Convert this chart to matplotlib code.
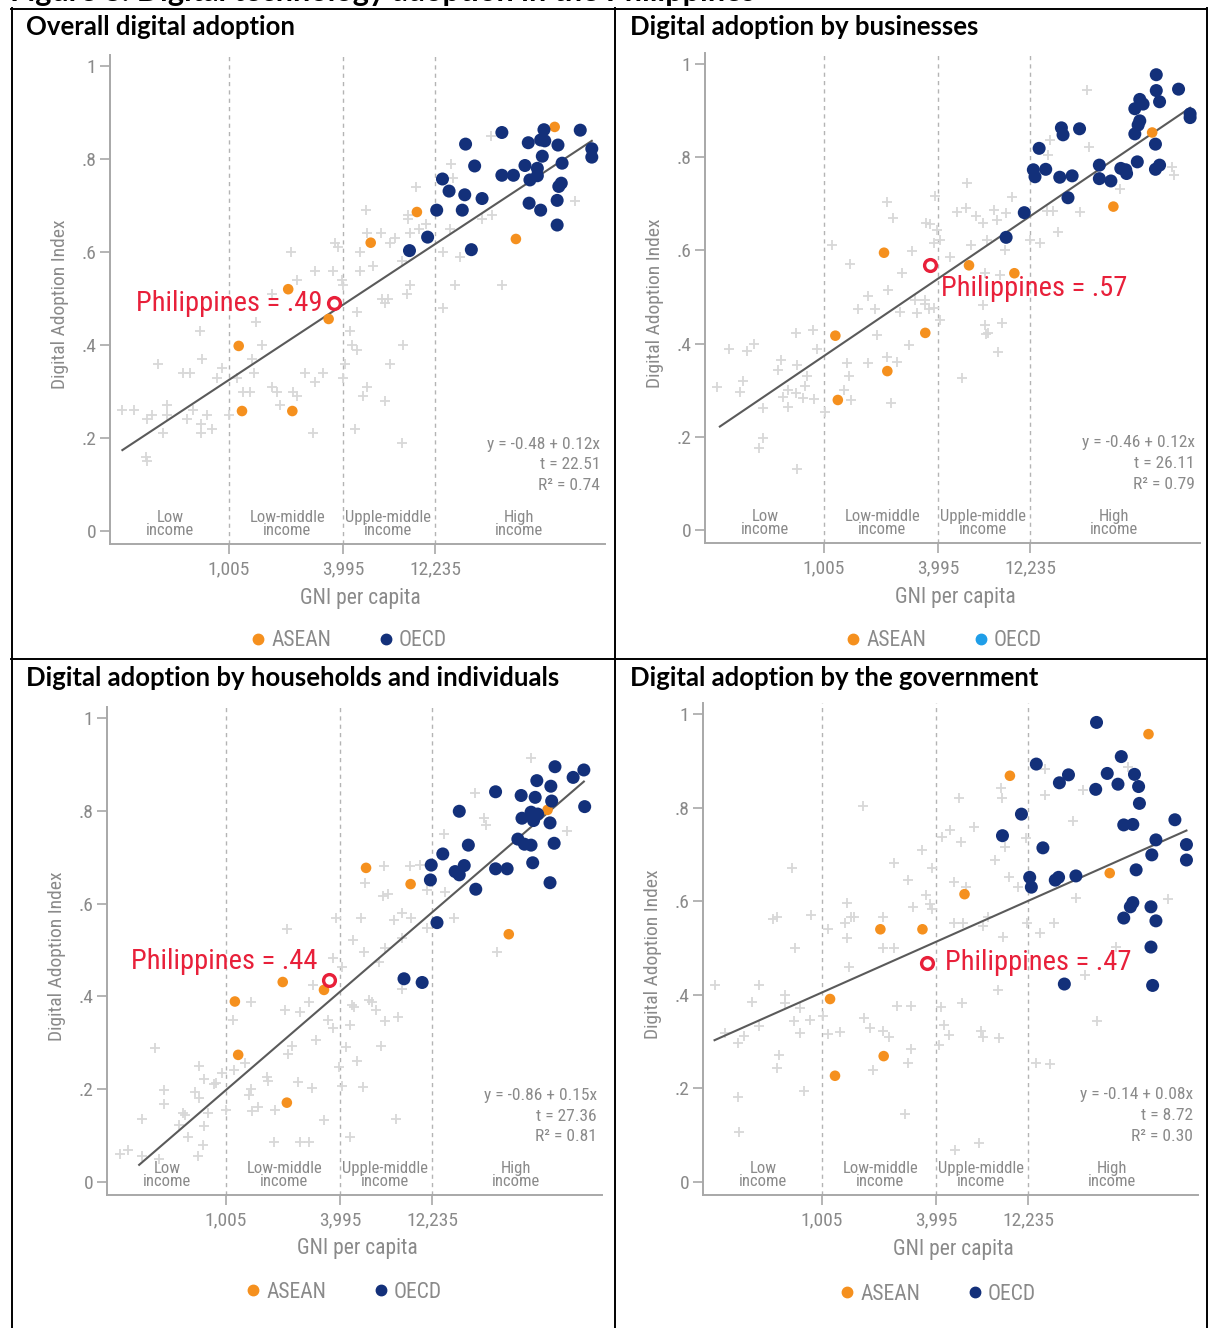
import numpy as np
import matplotlib
matplotlib.use("Agg")
import matplotlib.pyplot as plt
from matplotlib import font_manager
from matplotlib.lines import Line2D

W, H = 1208, 1328

# x = ln(GNI per capita), y = Digital Adoption Index
income_cuts = [1005, 3995, 12235]
income_cut_labels = ['1,005', '3,995', '12,235']
income_groups = ['Low\nincome', 'Low-middle\nincome', 'Upple-middle\nincome', 'High\nincome']
income_group_x = [6.20, 7.62, 8.84, 10.43]

titles = ['Overall digital adoption', 'Digital adoption by businesses',
          'Digital adoption by households and individuals', 'Digital adoption by the government']

# --- overall ---
p1_other = [(7.66, .60), (7.74, .54), (7.95, .56), (7.43, .51), (7.24, .45), (6.56, .43),
            (5.62, .26), (5.76, .26), (5.92, .24), (5.98, .25), (5.91, .16), (5.92, .15), (6.05, .36),
            (6.11, .21), (6.16, .27), (6.16, .25), (6.35, .34), (6.44, .34), (6.40, .24), (6.48, .26),
            (6.58, .37), (6.57, .23), (6.57, .21), (6.71, .22), (6.65, .25), (6.77, .33), (6.83, .35),
            (6.91, .25), (7.01, .33), (7.08, .30), (7.17, .30), (7.19, .37), (7.21, .34), (7.31, .40),
            (7.43, .31), (7.50, .30), (7.53, .27), (7.69, .30), (7.74, .29), (7.83, .34), (7.95, .32),
            (7.93, .21), (8.05, .34),
            (10.09, .85), (9.63, .76), (9.60, .79), (9.18, .74), (8.57, .69), (9.08, .68), (9.08, .67),
            (9.30, .66), (8.76, .64), (8.59, .64), (8.20, .62), (8.23, .61), (8.50, .60), (8.86, .62),
            (8.92, .63), (9.11, .64), (9.22, .65), (9.51, .60), (9.71, .59), (9.98, .67), (10.10, .68),
            (11.11, .71), (9.59, .65), (8.66, .57), (8.50, .56), (8.28, .54), (8.29, .53), (8.17, .56),
            (9.11, .53), (9.01, .58), (8.77, .50), (8.84, .50), (8.80, .49), (9.07, .51), (8.46, .47),
            (8.38, .43), (9.65, .53), (10.22, .53), (9.51, .48),
            (8.40, .40), (8.46, .39), (8.32, .36), (8.29, .33), (9.02, .40), (8.86, .36), (8.59, .31),
            (8.54, .29), (8.80, .28), (8.44, .22), (9.01, .19)]
p1_asean = [(7.63, .52), (8.12, .456), (7.03, .398), (7.07, .258), (7.68, .258), (8.63, .62),
            (9.19, .686), (10.39, .628), (10.86, .869)]
p1_oecd = [(10.22, .857), (9.78, .832), (10.54, .835), (10.73, .863), (10.69, .841), (10.74, .839),
           (10.90, .830), (11.17, .862), (11.31, .822), (11.31, .804), (10.71, .806), (9.89, .785),
           (10.50, .786), (10.65, .780), (10.95, .791), (10.22, .765), (10.36, .765), (10.56, .755),
           (10.65, .764), (9.50, .757), (9.58, .731), (9.77, .723), (9.98, .715), (10.91, .741),
           (10.94, .748), (10.55, .705), (10.69, .690), (10.89, .711), (9.43, .690), (9.74, .690),
           (10.89, .658), (9.32, .632), (9.10, .603), (9.85, .605)]
p1_phil = (8.18, 0.49)
p1_fit = [(5.62, 0.174), (11.31, 0.839)]
p1_stats = ['y = -0.48 + 0.12x', 't = 22.51', 'R² = 0.74']

# --- businesses ---
p2_other = [(7.67, .703), (7.75, .669), (7.01, .612), (7.23, .570), (7.98, .599), (7.86, .551),
            (7.69, .515), (7.44, .502), (7.33, .474), (7.53, .474), (7.83, .468), (8.02, .494),
            (8.04, .465), (8.14, .494), (8.18, .474), (8.15, .659), (6.57, .422), (6.78, .429),
            (7.55, .418), (10.10, .944), (10.12, .821), (9.65, .837), (9.63, .805), (8.64, .744),
            (8.26, .717), (8.52, .683), (8.63, .692), (8.76, .674), (8.84, .659), (8.97, .687),
            (9.01, .665), (9.12, .680), (9.19, .715), (8.20, .657), (8.28, .644), (8.32, .622),
            (8.24, .615), (8.70, .612), (8.89, .622), (9.11, .601), (9.41, .622), (9.53, .615),
            (9.61, .685), (9.69, .685), (9.75, .640), (10.02, .683), (10.50, .731), (11.13, .780),
            (11.15, .762), (8.44, .586), (8.86, .551), (9.05, .547), (8.14, .486), (8.24, .476),
            (8.84, .483), (9.07, .444), (8.86, .440), (8.90, .422), (8.32, .451),
            (5.62, .307), (5.76, .388), (5.98, .385), (6.06, .399), (5.90, .297), (5.93, .320),
            (6.17, .261), (6.12, .175), (6.17, .197), (6.39, .365), (6.35, .343), (6.41, .286),
            (6.48, .265), (6.48, .300), (6.59, .354), (6.57, .293), (6.66, .283), (6.68, .308),
            (6.71, .331), (6.79, .281), (6.83, .388), (6.58, .131), (6.92, .254), (7.15, .300),
            (7.19, .358), (7.22, .331), (7.24, .280), (7.44, .359), (7.67, .371), (7.73, .272),
            (7.80, .361), (7.94, .397), (8.59, .326), (8.88, .421), (9.02, .383)]
p2_asean = [(7.64, .595), (7.05, .417), (8.14, .423), (8.67, .568), (9.22, .551), (10.42, .694),
            (10.89, .853), (7.68, .341), (7.08, .279)]
p2_oecd = [(10.94, .977), (10.94, .943), (11.21, .946), (10.98, .919), (10.74, .924), (10.78, .914),
           (10.68, .904), (10.74, .878), (10.72, .869), (10.68, .850), (11.35, .893), (11.35, .885),
           (10.93, .828), (9.79, .863), (9.81, .848), (10.01, .861), (9.52, .819), (9.45, .773),
           (9.47, .758), (9.60, .774), (9.77, .757), (9.92, .760), (10.25, .783), (10.25, .754),
           (10.39, .749), (10.51, .776), (10.57, .773), (10.58, .765), (10.71, .790), (10.93, .774),
           (10.98, .783), (9.87, .713), (9.34, .681), (9.12, .628)]
p2_phil = (8.20, 0.569)
p2_fit = [(5.65, 0.222), (11.35, 0.906)]
p2_stats = ['y = -0.46 + 0.12x', 't = 26.11', 'R² = 0.79']

# --- households and individuals ---
p3_other = [(10.61, .913), (9.93, .839), (10.04, .784), (10.06, .769), (9.56, .751), (11.05, .757),
            (8.83, .682), (8.60, .645), (9.14, .680), (9.26, .683), (8.82, .617), (8.88, .621),
            (9.35, .629), (9.57, .626), (9.68, .568), (9.35, .547), (9.15, .570), (9.04, .579),
            (8.95, .565), (8.55, .568), (8.24, .568), (7.65, .545), (8.45, .522), (8.58, .496),
            (9.04, .525), (8.84, .504), (10.20, .496), (8.77, .475), (8.32, .464), (8.21, .482),
            (8.68, .389), (8.44, .381), (7.21, .389), (7.97, .425), (7.92, .389), (9.04, .417),
            (7.63, .371), (7.81, .366), (8.15, .349), (8.21, .331), (8.46, .378), (8.64, .392),
            (8.73, .371), (8.84, .348), (9.00, .355), (8.41, .338), (7.00, .349), (8.00, .305),
            (7.71, .293), (7.66, .276), (8.37, .290), (8.79, .294), (8.50, .261), (8.28, .248),
            (8.32, .207), (8.57, .204), (7.78, .216), (7.95, .202), (7.41, .227), (7.42, .218),
            (7.21, .200), (7.19, .188), (7.14, .256), (7.01, .241), (6.86, .234), (6.79, .213),
            (6.91, .155), (7.23, .152), (7.30, .162), (7.51, .155), (8.10, .134), (8.41, .098),
            (8.97, .136), (7.50, .087), (7.81, .087), (7.92, .087), (6.63, .080), (6.57, .056),
            (6.45, .098), (6.65, .121), (6.70, .148), (6.59, .180), (6.54, .195), (6.58, .250),
            (6.64, .223), (6.77, .211), (6.39, .148), (6.41, .144), (6.34, .123), (6.16, .198),
            (6.16, .168), (6.05, .288), (5.90, .136), (5.72, .070), (5.63, .060), (5.90, .055),
            (6.10, .049)]
p3_asean = [(8.61, .677), (9.15, .642), (10.34, .534), (10.81, .802), (7.60, .431), (8.10, .414),
            (7.02, .389), (7.06, .274), (7.65, .171)]
p3_oecd = [(10.90, .895), (11.25, .888), (11.12, .872), (10.68, .865), (10.85, .853), (10.18, .841),
           (10.49, .833), (10.66, .829), (10.86, .821), (11.26, .809), (9.74, .799), (10.61, .797),
           (10.69, .793), (10.50, .784), (10.64, .779), (10.84, .774), (10.45, .739), (10.53, .728),
           (10.61, .726), (10.89, .730), (9.85, .726), (9.54, .707), (9.40, .683), (9.80, .682),
           (9.69, .669), (9.74, .662), (10.18, .675), (10.32, .675), (10.63, .688), (9.39, .651),
           (9.94, .631), (10.84, .645), (9.47, .559), (9.07, .438), (9.29, .430)]
p3_phil = (8.16, 0.435)
p3_fit = [(5.86, 0.037), (11.25, 0.863)]
p3_stats = ['y = -0.86 + 0.15x', 't = 27.36', 'R² = 0.81']

# --- government ---
p4_other = [(7.41, .804), (6.55, .672), (5.61, .420), (6.15, .420), (6.06, .385), (6.46, .400),
            (6.37, .567), (6.32, .563), (6.58, .501), (6.78, .571), (6.99, .540), (7.21, .596),
            (7.26, .567), (7.19, .553), (7.30, .566), (7.21, .521), (7.24, .459), (7.65, .567),
            (7.65, .499), (7.79, .499), (7.79, .681), (7.95, .645), (8.02, .588), (8.13, .709),
            (8.17, .613), (8.22, .595), (8.24, .672), (8.25, .583), (8.37, .738), (8.46, .752),
            (8.57, .820), (8.51, .642), (8.51, .553), (8.62, .553), (8.60, .727), (8.66, .631),
            (8.75, .759), (8.86, .546), (8.93, .567), (9.01, .687), (9.08, .841), (9.10, .820),
            (9.13, .716), (9.18, .652), (9.04, .410), (9.11, .524), (9.29, .631), (9.38, .734),
            (9.40, .553), (9.55, .531), (9.61, .827), (9.62, .882), (9.73, .553), (9.96, .771),
            (9.99, .606), (10.07, .838), (10.10, .442), (10.47, .503), (11.11, .605), (10.62, .887),
            (5.74, .318), (5.89, .296), (5.97, .312), (6.15, .333), (6.39, .271), (6.37, .243),
            (6.46, .382), (6.57, .343), (6.64, .318), (6.65, .371), (6.77, .346), (6.92, .355),
            (6.99, .316), (7.13, .321), (6.69, .195), (5.89, .182), (5.91, .107), (7.42, .350),
            (7.50, .328), (7.65, .323), (7.73, .309), (7.53, .239), (7.82, .376), (7.99, .376),
            (7.99, .284), (7.95, .255), (7.92, .145), (8.36, .373), (8.39, .335), (8.45, .314),
            (8.33, .293), (8.61, .383), (8.84, .323), (8.86, .309), (9.06, .307), (8.53, .068),
            (8.82, .084), (9.51, .255), (9.67, .252), (10.24, .345)]
p4_asean = [(9.19, .868), (10.87, .957), (10.40, .660), (8.64, .615), (7.62, .540), (8.13, .540),
            (7.01, .391), (7.07, .227), (7.66, .269)]
p4_oecd = [(10.24, .982), (9.51, .893), (10.54, .909), (9.90, .870), (9.79, .853), (10.37, .873),
           (10.23, .839), (10.50, .850), (10.70, .871), (10.75, .845), (10.76, .809), (9.33, .786),
           (10.57, .763), (10.68, .764), (11.19, .774), (9.10, .740), (9.59, .714), (10.96, .731),
           (10.91, .699), (11.33, .721), (11.33, .688), (10.72, .667), (9.43, .651), (9.45, .630),
           (9.74, .645), (9.78, .651), (9.99, .654), (10.68, .597), (10.65, .588), (10.90, .588),
           (10.57, .564), (10.96, .558), (10.90, .502), (9.85, .423), (10.92, .420)]
p4_phil = (8.18, 0.469)
p4_fit = [(5.61, 0.303), (11.33, 0.751)]
p4_stats = ['y = -0.14 + 0.08x', 't = 8.72', 'R² = 0.30']

# ---- fonts / colours ----
avail = {f.name for f in font_manager.fontManager.ttflist}
cond = [n for n in ['Liberation Sans Narrow', 'Roboto Condensed', 'DejaVu Sans Condensed'] if n in avail]
CF = cond[0] if cond else 'Roboto'
TF = 'Lato'
GREY_TXT = '#8a8a8a'
ORANGE = '#f5901e'
NAVY = '#13307a'
RED = '#e8203a'
PLUS = '#d8d8d8'

fig = plt.figure(figsize=(W / 100, H / 100), dpi=100)

# page frame
def hline(y, x0, x1):
    fig.add_artist(Line2D([x0 / W, x1 / W], [1 - y / H, 1 - y / H], color='black', lw=1.4))

def vline(x, y0, y1):
    fig.add_artist(Line2D([x / W, x / W], [1 - y0 / H, 1 - y1 / H], color='black', lw=1.4))

hline(8.5, 11, 1208)
hline(658.5, 11, 1208)
vline(11.5, 8, 1328)
vline(615.5, 8, 1328)
vline(1207, 8, 1328)

# figure caption, cut off by the top edge as in the source page
fig.text(10 / W, 1 - 1 / H, 'Figure 8: Digital technology adoption in the Philippines',
         fontsize=22, fontweight='bold', family=TF, va='baseline', ha='left')

# per panel: left px of axes, px of y=1, px of y=0, title xy, legend centre, OECD legend colour
layout = [
    dict(left=110, y1=66, y0=531, tx=26, ty=27, lx=349, ly=641, oecd_leg=NAVY),
    dict(left=705, y1=64, y0=530, tx=630, ty=27, lx=944, ly=641, oecd_leg='#1f9ee8'),
    dict(left=107, y1=718, y0=1182, tx=26, ty=678, lx=344, ly=1292, oecd_leg=NAVY),
    dict(left=703, y1=714, y0=1182, tx=630, ty=678, lx=938, ly=1294, oecd_leg=NAVY),
]
panels = [
    (p1_other, p1_asean, p1_oecd, p1_phil, p1_fit, p1_stats, '.49', (-11, 0), 'right'),
    (p2_other, p2_asean, p2_oecd, p2_phil, p2_fit, p2_stats, '.57', (11, -24), 'left'),
    (p3_other, p3_asean, p3_oecd, p3_phil, p3_fit, p3_stats, '.44', (-11, 19), 'right'),
    (p4_other, p4_asean, p4_oecd, p4_phil, p4_fit, p4_stats, '.47', (18, 0), 'left'),
]

XLIM = (5.47, 11.47)
YLIM = (-0.028, 1.024)
AX_W = 495

for title, lay, (other, asean, oecd, phil, fit, stats, phv, off, pha) in zip(titles, layout, panels):
    unit = lay['y0'] - lay['y1']
    top = lay['y1'] - (YLIM[1] - 1) * unit
    bottom = lay['y0'] - YLIM[0] * unit
    ax = fig.add_axes([lay['left'] / W, 1 - bottom / H, AX_W / W, (bottom - top) / H])

    fig.text(lay['tx'] / W, 1 - lay['ty'] / H, title, fontsize=18.5, fontweight='bold',
             family=TF, va='center', ha='left')

    ax.set_xlim(*XLIM)
    ax.set_ylim(*YLIM)
    for s in ['top', 'right']:
        ax.spines[s].set_visible(False)
    for s in ['left', 'bottom']:
        ax.spines[s].set_color('#a8a8a8')
        ax.spines[s].set_linewidth(1.4)

    cuts = np.log(income_cuts)
    ax.set_xticks(cuts)
    ax.set_xticklabels(income_cut_labels)
    ax.set_yticks([0, .2, .4, .6, .8, 1])
    ax.set_yticklabels(['0', '.2', '.4', '.6', '.8', '1'])
    ax.tick_params(axis='both', direction='out', length=7, width=1.2, color='#a8a8a8',
                   labelcolor=GREY_TXT, labelsize=14)
    ax.tick_params(axis='y', pad=3)
    ax.tick_params(axis='x', pad=5)
    for lab in ax.get_xticklabels() + ax.get_yticklabels():
        lab.set_family(CF)

    for c in cuts:
        ax.axvline(c, color='#b4b4b4', lw=1.0, ls=(0, (3, 3)), zorder=1)

    for gx, gl in zip(income_group_x, income_groups):
        ax.text(gx, 0.015, gl, ha='center', va='center', fontsize=12, color=GREY_TXT,
                family=CF, linespacing=0.85)

    ox, oy = zip(*other)
    ax.scatter(ox, oy, marker='+', s=48, color=PLUS, linewidths=1.3, zorder=2)
    (fx0, fy0), (fx1, fy1) = fit
    ax.plot([fx0, fx1], [fy0, fy1], color='#5a5a5a', lw=1.5, zorder=3)
    axx, ayy = zip(*asean)
    ax.scatter(axx, ayy, s=58, color=ORANGE, edgecolors='none', zorder=4)
    bx, by = zip(*oecd)
    ax.scatter(bx, by, s=88, color=NAVY, edgecolors='none', zorder=4)
    ax.plot([phil[0]], [phil[1]], marker='o', ms=8.5, mfc='white', mec=RED, mew=2.4, zorder=6)
    ax.annotate('Philippines = ' + phv, xy=phil, xytext=off, textcoords='offset pixels',
                ha=pha, va='center', fontsize=20.5, color=RED, family=CF, zorder=7)

    for sy, st in zip([0.187, 0.142, 0.097], stats):
        ax.text(0.99, sy, st, transform=ax.get_yaxis_transform(), ha='right', va='center',
                fontsize=12.5, color=GREY_TXT, family=CF)

    ax.set_ylabel('Digital Adoption Index', fontsize=14, color=GREY_TXT, family=CF)
    ax.yaxis.set_label_coords(-0.10, 0.49)
    ax.yaxis.label.set_va('center')
    ax.set_xlabel('GNI per capita', fontsize=15.5, color=GREY_TXT, family=CF)
    ax.xaxis.label.set_va('center')
    ax.xaxis.set_label_coords(0.505, -54 / (bottom - top))

    handles = [Line2D([], [], marker='o', ls='', color=ORANGE, ms=7.5),
               Line2D([], [], marker='o', ls='', color=lay['oecd_leg'], ms=7.5)]
    fig.legend(handles, ['ASEAN', 'OECD'], loc='center', ncol=2, frameon=False,
               bbox_to_anchor=(lay['lx'] / W, 1 - lay['ly'] / H), bbox_transform=fig.transFigure,
               handlelength=0.7, handletextpad=0.25, columnspacing=2.2,
               prop={'family': CF, 'size': 15.5}, labelcolor=GREY_TXT, borderaxespad=0)

fig.savefig('out.png', dpi=100)
